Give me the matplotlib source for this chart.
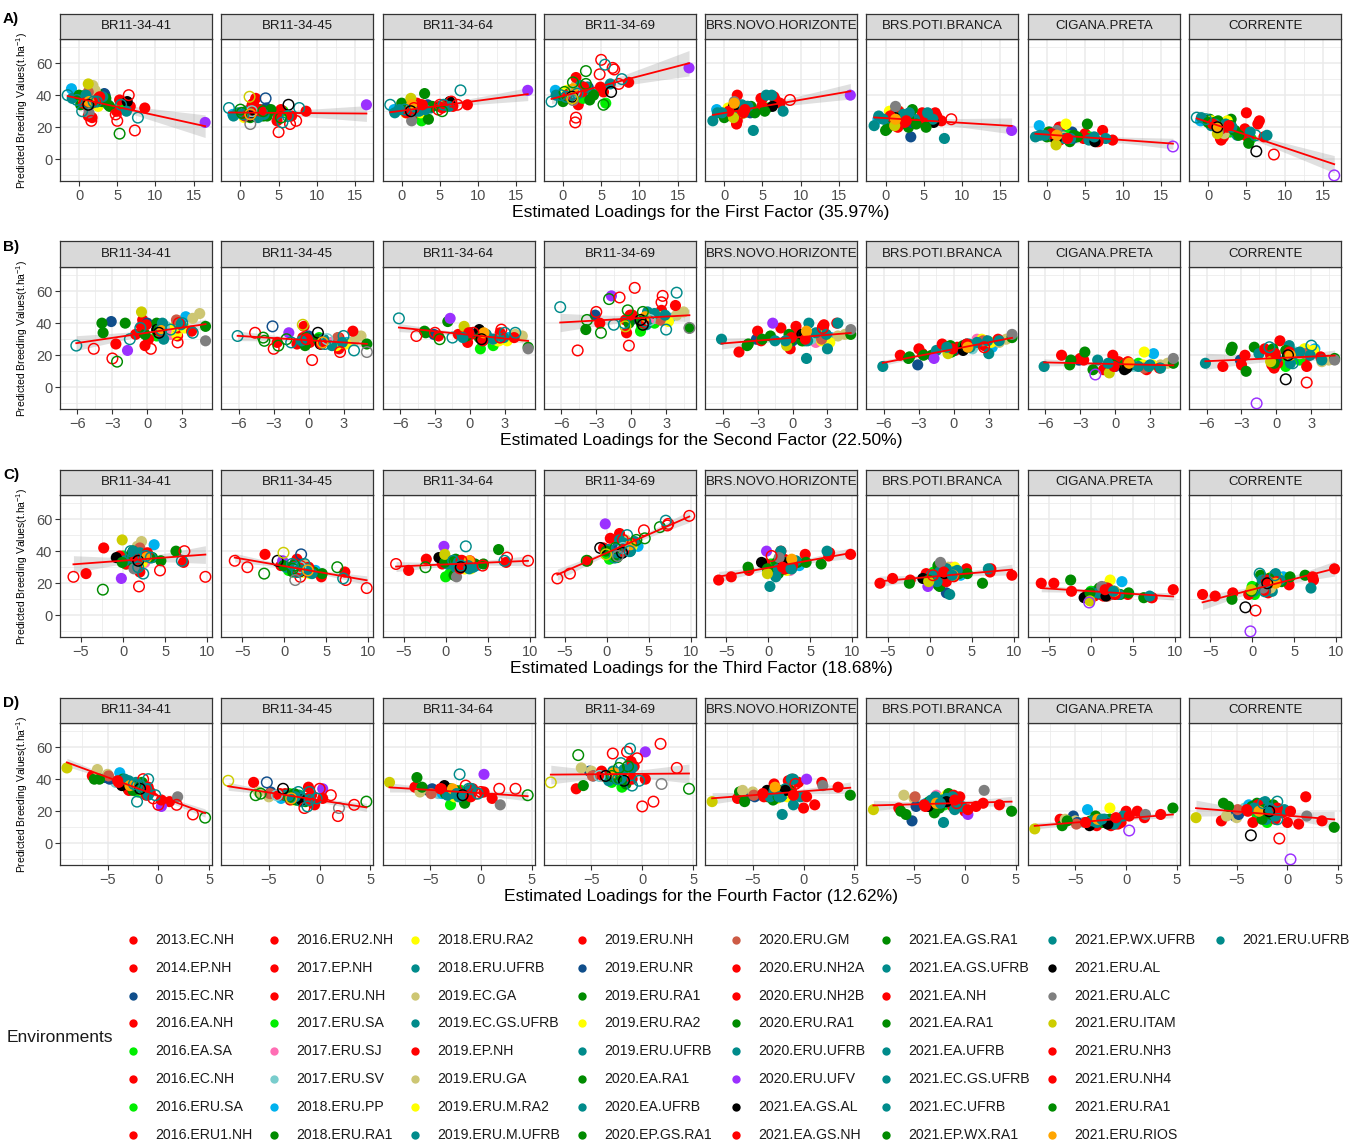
import numpy as np
import matplotlib
matplotlib.use('Agg')
import matplotlib.pyplot as plt

plt.rcParams['font.family'] = ['Liberation Sans', 'DejaVu Sans']
plt.rcParams['mathtext.fontset'] = 'custom'
plt.rcParams['mathtext.rm'] = 'Liberation Sans'
plt.rcParams['mathtext.it'] = 'Liberation Sans:italic'

environments = ['2013.EC.NH', '2014.EP.NH', '2015.EC.NR', '2016.EA.NH', '2016.EA.SA', '2016.EC.NH',
                '2016.ERU.SA', '2016.ERU1.NH', '2016.ERU2.NH', '2017.EP.NH', '2017.ERU.NH', '2017.ERU.SA',
                '2017.ERU.SJ', '2017.ERU.SV', '2018.ERU.PP', '2018.ERU.RA1', '2018.ERU.RA2', '2018.ERU.UFRB',
                '2019.EC.GA', '2019.EC.GS.UFRB', '2019.EP.NH', '2019.ERU.GA', '2019.ERU.M.RA2', '2019.ERU.M.UFRB',
                '2019.ERU.NH', '2019.ERU.NR', '2019.ERU.RA1', '2019.ERU.RA2', '2019.ERU.UFRB', '2020.EA.RA1',
                '2020.EA.UFRB', '2020.EP.GS.RA1', '2020.ERU.GM', '2020.ERU.NH2A', '2020.ERU.NH2B', '2020.ERU.RA1',
                '2020.ERU.UFRB', '2020.ERU.UFV', '2021.EA.GS.AL', '2021.EA.GS.NH', '2021.EA.GS.RA1', '2021.EA.GS.UFRB',
                '2021.EA.NH', '2021.EA.RA1', '2021.EA.UFRB', '2021.EC.GS.UFRB', '2021.EC.UFRB', '2021.EP.WX.RA1',
                '2021.EP.WX.UFRB', '2021.ERU.AL', '2021.ERU.ALC', '2021.ERU.ITAM', '2021.ERU.NH3', '2021.ERU.NH4',
                '2021.ERU.RA1', '2021.ERU.RIOS', '2021.ERU.UFRB']

RED, DBLUE, LIME, PINK = '#FF0000', '#104E8B', '#00EE00', '#FF6EB4'
LTEAL, SKY, DGREEN, YELLOW = '#79CDCD', '#00B2EE', '#008B00', '#FFFF00'
TEAL, KHAKI, CORAL, PURPLE = '#008B8B', '#CDC673', '#CD5B45', '#9B30FF'
BLACK, GREY, OLIVE, ORANGE = '#000000', '#7F7F7F', '#CDCD00', '#FFA500'

env_colours = [RED, RED, DBLUE, RED, LIME, RED, LIME, RED, RED, RED,
               RED, LIME, PINK, LTEAL, SKY, DGREEN, YELLOW, TEAL, KHAKI, TEAL,
               RED, KHAKI, YELLOW, TEAL, RED, DBLUE, DGREEN, YELLOW, TEAL, DGREEN,
               TEAL, DGREEN, CORAL, RED, RED, DGREEN, TEAL, PURPLE, BLACK, RED,
               DGREEN, TEAL, RED, DGREEN, TEAL, TEAL, TEAL, DGREEN, TEAL, BLACK,
               GREY, OLIVE, RED, RED, DGREEN, ORANGE, TEAL]

# estimated loadings of each environment on the four latent factors
loadings_f1 = [1.6, 1.7, 3.3, 2.0, 2.6, 5.0, 5.6, 7.3, 4.8, 6.5, 8.6, 2.8, 1.0, 1.5, -1.0, 3.0, 2.5, 7.7, 1.8, 1.9,
               5.3, 2.1, 1.0, 0.4, 4.9, 3.4, 0.2, 0.5, 3.8, 3.5, -0.9, 0.8, 1.2, 6.7, 1.7, 0.0, 5.5, 16.5, 6.3, 1.2,
               1.3, 6.2, 2.5, 3.0, -1.5, 0.9, 2.3, 4.0, 3.1, 1.2, 1.3, 1.2, 2.7, 0.6, 5.3, 1.3, -0.3]
loadings_f2 = [-4.6, -0.2, -3.1, -0.4, 0.9, 0.3, 0.8, -3.0, 2.6, 2.7, 2.6, 2.0, 2.0, 1.6, 3.3, -1.9, 2.5, -6.1, 4.5, 1.2,
               2.6, 3.9, 3.2, -1.5, 0.1, 0.0, -3.8, 2.4, 1.2, 5.0, 1.1, 0.8, 2.5, -1.0, 3.8, -3.9, 3.9, -1.7, 0.8, -2.7,
               -0.3, 1.4, -0.5, 1.0, 3.0, 1.3, 2.0, -0.2, 2.9, 1.0, 5.0, -0.5, -0.1, 1.1, -2.6, 1.2, -0.6]
loadings_f3 = [-5.9, -4.4, 2.0, -2.3, 0.0, 9.8, 0.3, 1.9, 4.4, 7.3, 0.4, 0.5, 2.6, 1.9, 3.7, 6.3, 2.3, 2.4, 2.2, 1.2,
               -0.4, 1.7, 2.2, 1.8, 1.6, 1.2, 1.0, 3.0, 0.2, 1.0, 2.8, 2.0, 2.0, 7.2, 1.5, 1.2, 7.0, -0.2, -0.8, 2.0,
               4.5, 1.5, 1.9, 3.5, 0.9, 1.2, 3.3, -0.1, 2.0, 1.8, 1.3, -0.1, 2.9, 1.7, -2.4, 2.8, 2.7]
loadings_f4 = [0.0, 1.1, -5.2, -6.5, -3.0, 1.8, -2.0, 3.4, -0.5, -1.5, -0.8, -1.6, -2.8, -4.2, -3.8, -6.3, -1.6, -2.1, -6.0, -2.1,
               -3.4, -5.0, -2.6, -0.3, -1.2, -4.8, -3.0, -1.8, -2.1, -1.6, -2.2, -3.5, -4.9, -2.9, -1.1, -5.8, -1.2, 0.3, -3.6, 0.3,
               -1.4, -1.0, -3.9, -2.3, -1.0, -3.3, -1.8, -2.5, -2.9, -1.8, 1.9, -9.0, -4.0, -1.0, 4.6, -2.8, -2.4]
factor_names = ['First', 'Second', 'Third', 'Fourth']
factor_variance = ['35.97%', '22.50%', '18.68%', '12.62%']
panel_tags = ['A)', 'B)', 'C)', 'D)']

genotypes = ['BR11-34-41', 'BR11-34-45', 'BR11-34-64', 'BR11-34-69',
             'BRS.NOVO.HORIZONTE', 'BRS.POTI.BRANCA', 'CIGANA.PRETA', 'CORRENTE']

# predicted breeding values (t/ha) per genotype, same environment order as above
pbv_br11_34_41 = [24, 26, 41, 42, 37, 24, 32, 18, 28, 40, 32, 35, 33, 38, 44, 40, 33, 26, 46, 36,
                  37, 43, 37, 30, 30, 40, 34, 38, 34, 38, 38, 40, 42, 33, 35, 40, 34, 23, 36, 27,
                  34, 30, 38, 36, 40, 40, 36, 33, 39, 34, 29, 47, 39, 35, 16, 36, 37]
pbv_br11_34_45 = [34, 30, 38, 38, 31, 17, 30, 24, 24, 22, 30, 28, 28, 30, 28, 30, 27, 32, 32, 29,
                  31, 29, 27, 28, 28, 32, 29, 26, 30, 27, 27, 30, 31, 27, 35, 31, 23, 34, 34, 28,
                  26, 27, 31, 27, 32, 30, 26, 31, 28, 27, 22, 39, 30, 27, 26, 28, 29]
pbv_br11_34_64 = [32, 28, 33, 35, 24, 34, 33, 34, 31, 36, 34, 26, 30, 31, 31, 41, 29, 43, 32, 30,
                  32, 33, 29, 31, 33, 34, 34, 29, 32, 25, 29, 31, 31, 33, 31, 35, 34, 43, 36, 32,
                  32, 33, 34, 32, 34, 30, 30, 33, 31, 30, 24, 38, 34, 29, 30, 34, 31]
pbv_br11_34_69 = [23, 26, 45, 34, 38, 62, 35, 47, 53, 57, 48, 40, 43, 42, 43, 55, 44, 50, 47, 41,
                  42, 45, 41, 39, 45, 42, 42, 43, 41, 37, 40, 41, 42, 56, 51, 36, 59, 57, 42, 40,
                  48, 47, 42, 47, 36, 39, 46, 40, 45, 39, 37, 38, 45, 40, 34, 44, 40]
pbv_novo_horizonte = [22, 24, 30, 28, 29, 38, 32, 35, 38, 39, 37, 31, 28, 30, 31, 32, 29, 30, 33, 30,
                      32, 32, 28, 29, 33, 29, 27, 32, 18, 33, 29, 29, 30, 37, 40, 26, 40, 40, 33, 29,
                      33, 40, 29, 33, 24, 29, 34, 29, 33, 33, 36, 26, 31, 30, 30, 35, 29]
pbv_poti_branca = [20, 23, 14, 22, 25, 25, 24, 24, 29, 29, 25, 27, 30, 24, 25, 20, 27, 13, 30, 26,
                   26, 28, 28, 23, 23, 23, 19, 30, 25, 31, 27, 26, 29, 27, 30, 18, 29, 18, 23, 21,
                   26, 25, 23, 26, 21, 27, 28, 22, 29, 26, 33, 21, 24, 27, 20, 25, 25]
pbv_cigana_preta = [20, 20, 17, 15, 15, 16, 14, 18, 13, 11, 12, 15, 13, 13, 21, 11, 22, 13, 15, 15,
                    13, 14, 14, 17, 14, 13, 17, 14, 14, 15, 15, 14, 12, 11, 12, 14, 12, 8, 11, 17,
                    14, 14, 13, 13, 14, 14, 13, 14, 13, 12, 18, 9, 13, 16, 22, 15, 15]
pbv_corrente = [13, 12, 17, 14, 18, 29, 13, 14, 19, 22, 3, 17, 21, 22, 24, 25, 24, 15, 17, 20,
                13, 16, 23, 21, 15, 18, 25, 24, 15, 18, 26, 23, 21, 24, 19, 23, 17, -10, 5, 20,
                24, 15, 20, 21, 26, 22, 22, 15, 20, 20, 17, 16, 21, 22, 10, 20, 25]

# environments (0-based index) where the genotype was not evaluated -> open circles
untested_br11_34_41 = [0, 5, 7, 8, 9, 17, 19, 23, 36, 44, 46, 49, 54, 56]
untested_br11_34_45 = [0, 1, 2, 5, 7, 9, 13, 15, 17, 23, 26, 35, 36, 38, 41, 44, 50, 51, 54, 55]
untested_br11_34_64 = [0, 5, 7, 8, 9, 17, 23, 36, 44, 49, 54]
untested_br11_34_69 = [0, 1, 5, 7, 8, 9, 13, 15, 17, 19, 23, 26, 33, 36, 38, 40, 43, 44, 49, 50, 51, 54, 56]
untested_novo_horizonte = [10]
untested_poti_branca = [10]
untested_cigana_preta = [37]
untested_corrente = [10, 37, 38, 41, 44, 49, 56]

loadings = [loadings_f1, loadings_f2, loadings_f3, loadings_f4]
pbv = [pbv_br11_34_41, pbv_br11_34_45, pbv_br11_34_64, pbv_br11_34_69,
       pbv_novo_horizonte, pbv_poti_branca, pbv_cigana_preta, pbv_corrente]
untested = [untested_br11_34_41, untested_br11_34_45, untested_br11_34_64, untested_br11_34_69,
            untested_novo_horizonte, untested_poti_branca, untested_cigana_preta, untested_corrente]

x_major = [[0, 5, 10, 15], [-6, -3, 0, 3], [-5, 0, 5, 10], [-5, 0, 5]]
x_minor = [[-2.5, 2.5, 7.5, 12.5], [-7.5, -4.5, -1.5, 1.5, 4.5], [-7.5, -2.5, 2.5, 7.5], [-7.5, -2.5, 2.5]]

W, H = 1363, 1143
fig = plt.figure(figsize=(W / 100, H / 100), dpi=100)


def box(left, top, width, height):
    # pixel box (from top-left) -> figure fraction
    return [left / W, 1 - (top + height) / H, width / W, height / H]


col_x0, col_step, panel_w = 60, 161.3, 152
row_y0, row_step, strip_h, panel_h = 13.5, 228, 25.5, 142
t975 = 2.004  # t quantile, 55 degrees of freedom
colours = np.array(env_colours)

for f in range(4):
    x = np.array(loadings[f], dtype=float)
    span = x.max() - x.min()
    xlim = (x.min() - 0.05 * span, x.max() + 0.05 * span)
    top = row_y0 + f * row_step

    for g in range(8):
        y = np.array(pbv[g], dtype=float)
        left = col_x0 + g * col_step
        ax = fig.add_axes(box(left, top + strip_h, panel_w, panel_h))

        hollow = np.zeros(len(y), dtype=bool)
        hollow[untested[g]] = True
        ax.scatter(x[~hollow], y[~hollow], s=64, c=colours[~hollow], linewidths=0, zorder=3)
        ax.scatter(x[hollow], y[hollow], s=58, facecolors='none', edgecolors=colours[hollow],
                   linewidths=1.05, zorder=3)

        # linear fit with 95% confidence band
        n = len(x)
        slope, icpt = np.polyfit(x, y, 1)
        xs = np.linspace(x.min(), x.max(), 100)
        fit = icpt + slope * xs
        resid = y - (icpt + slope * x)
        s = np.sqrt(np.sum(resid ** 2) / (n - 2))
        se = s * np.sqrt(1 / n + (xs - x.mean()) ** 2 / np.sum((x - x.mean()) ** 2))
        ax.fill_between(xs, fit - t975 * se, fit + t975 * se, color='#999999', alpha=0.3, lw=0, zorder=2)
        ax.plot(xs, fit, color='#FF0000', lw=1.3, zorder=4)

        ax.set_xlim(xlim)
        ax.set_ylim(-13.5, 75)
        ax.set_xticks(x_major[f])
        ax.set_xticks(x_minor[f], minor=True)
        ax.set_yticks([0, 20, 40, 60])
        ax.set_yticks([-10, 10, 30, 50, 70], minor=True)
        ax.grid(which='major', color='#EBEBEB', lw=1.1)
        ax.grid(which='minor', color='#EBEBEB', lw=0.55)
        ax.set_axisbelow(True)
        ax.tick_params(which='major', length=3.5, width=0.8, color='#333333',
                       labelsize=10.5, labelcolor='#4D4D4D', pad=2)
        ax.tick_params(which='minor', length=0)
        if g > 0:
            ax.tick_params(axis='y', left=False, labelleft=False)
        for sp in ax.spines.values():
            sp.set_color('#333333')
            sp.set_linewidth(0.9)

        sax = fig.add_axes(box(left, top, panel_w, strip_h))
        sax.set_facecolor('#D9D9D9')
        sax.set_xticks([])
        sax.set_yticks([])
        for sp in sax.spines.values():
            sp.set_color('#333333')
            sp.set_linewidth(0.9)
        sax.text(0.5, 0.5, genotypes[g], ha='center', va='center', fontsize=9.5,
                 color='#1A1A1A', transform=sax.transAxes)

    fig.text(3 / W, 1 - (top + 5) / H, panel_tags[f], fontsize=11, fontweight='bold', va='center')
    fig.text(22 / W, 1 - (top + strip_h + panel_h / 2) / H, 'Predicted Breeding Values(t.ha$^{-1}$)',
             rotation=90, fontsize=7.5, ha='center', va='center')
    fig.text(701 / W, 1 - (top + 199.5) / H,
             'Estimated Loadings for the %s Factor (%s)' % (factor_names[f], factor_variance[f]),
             fontsize=12.6, ha='center', va='center')

# legend of environments, column-major, 8 per column
lax = fig.add_axes([0, 0, 1, 1])
lax.set_xlim(0, W)
lax.set_ylim(H, 0)
lax.axis('off')
key_x = [133, 274, 415, 582, 736, 886, 1052, 1220]
for i, name in enumerate(environments):
    kx = key_x[i // 8]
    ky = 940 + 27.8 * (i % 8)
    lax.scatter([kx], [ky], s=36, c=env_colours[i], linewidths=0)
    lax.text(kx + 22, ky, name, va='center', fontsize=10.2, color='#1A1A1A')
lax.text(7, 1037, 'Environments', va='center', fontsize=12.5, color='#1A1A1A')

fig.savefig('out.png', dpi=100)
